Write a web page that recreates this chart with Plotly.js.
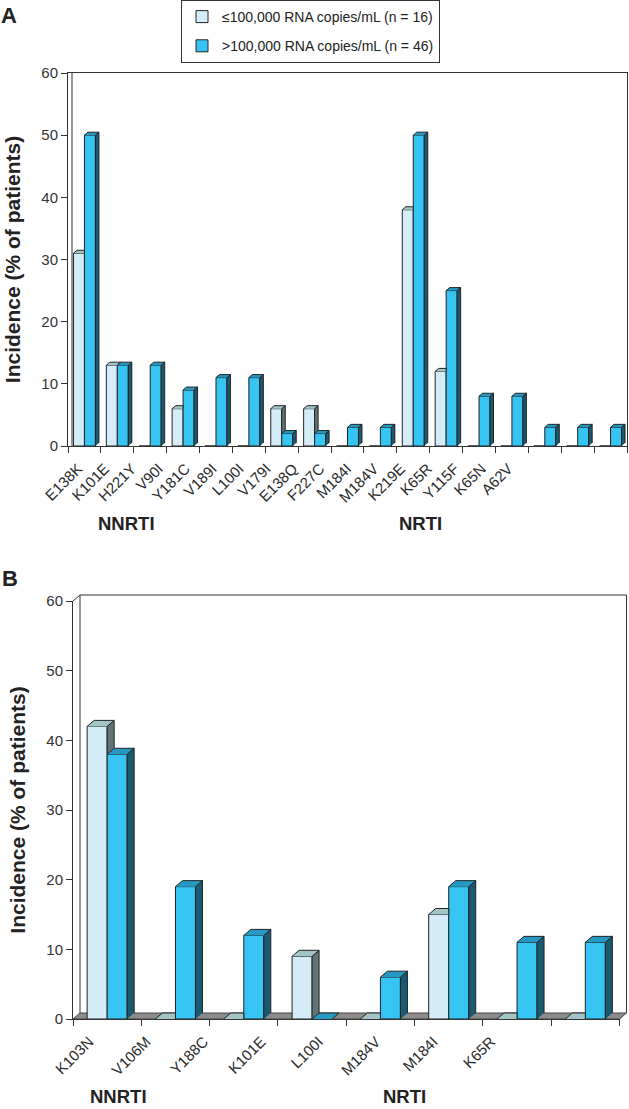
<!DOCTYPE html>
<html><head><meta charset="utf-8">
<script src="https://cdn.plot.ly/plotly-3.0.1.min.js"></script>
<style>html,body{margin:0;padding:0;background:#fff}</style>
</head><body><div id="chart" style="width:629px;height:1109px"></div>
<script>
// ---- data ----
const catsA = ["E138K","K101E","H221Y","V90I","Y181C","V189I","L100I","V179I","E138Q","F227C","M184I","M184V","K219E","K65R","Y115F","K65N","A62V"];
const lowA  = [31,13,0,6,0,0,6,6,0,0,38,12,0,0,0,0,0];
const highA = [50,13,13,9,11,11,2,2,3,3,50,25,8,8,3,3,3];
const catsB = ["K103N","V106M","Y188C","K101E","L100I","M184V","M184I","K65R"];
const lowB  = [42,0,0,9,0,15,0,0];
const highB = [38,19,12,0,6,19,11,11];
const seriesNames = ["≤100,000 RNA copies/mL (n = 16)", ">100,000 RNA copies/mL (n = 46)"];
const groupLabels = ["NNRTI","NRTI"];
const panelLabels = ["A","B"];
const yTicks = [0,10,20,30,40,50,60];
const yTitle = "Incidence (% of patients)";

// ---- style / geometry ----
const W = 629, H = 1109;
const px = x => x / W, py = y => 1 - y / H;
const colLow = {front:"#d3ecf7", top:"#a2c5c7", side:"#5f7476"};
const colHigh = {front:"#36c4f2", top:"#2599c3", side:"#1a5a71"};
const edge = "#222";
const gA = {left:68, right:627, top:73, bottom:446, w:0.334, dx:3.5, dy:3, lab0:78, labStep:26.9, zeroTops:false};
const gB = {left:73, right:619.5, top:601, bottom:1019, w:0.293, dx:7, dy:6, lab0:89, labStep:57.4, zeroTops:true};

function faceTraces(low, high, g, xa, ya) {
  const n = low.length;
  const ux = (g.right - g.left) / n, uy = (g.bottom - g.top) / 60;
  const dX = g.dx / ux, dY = g.dy / uy, w = g.w;
  const lt = {x:[],y:[]}, ls = {x:[],y:[]}, ht = {x:[],y:[]}, hs = {x:[],y:[]};
  const poly = (o, pts) => { pts.forEach(p => { o.x.push(p[0]); o.y.push(p[1]); }); o.x.push(null); o.y.push(null); };
  for (let i = 0; i < n; i++) {
    const x0 = i - w, x1 = i, x2 = i + w, vl = low[i], vh = high[i];
    if (vl > 0 || g.zeroTops) {
      if (vh > vl) poly(lt, [[x0,vl],[x0+dX,vl+dY],[x1,vl+dY],[x1,vl]]);
      else poly(lt, [[x0,vl],[x0+dX,vl+dY],[x1+dX,vl+dY],[x1,vl]]);
      if (vl > vh) poly(ls, [[x1,vh],[x1,vl],[x1+dX,vl+dY],[x1+dX,vh+dY]]);
    }
    if (vh > 0 || g.zeroTops) {
      poly(ht, [[x1,vh],[x1+dX,vh+dY],[x2+dX,vh+dY],[x2,vh]]);
      if (vh > 0) poly(hs, [[x2,0],[x2,vh],[x2+dX,vh+dY],[x2+dX,dY]]);
    }
  }
  const mk = (o, c) => ({type:"scatter", mode:"lines", x:o.x, y:o.y, fill:"toself", fillcolor:c,
    line:{color:edge, width:1}, xaxis:xa, yaxis:ya, hoverinfo:"skip", showlegend:false});
  return [mk(ls, colLow.side), mk(lt, colLow.top), mk(hs, colHigh.side), mk(ht, colHigh.top)];
}

function barTraces(cats, low, high, g, xa, ya, legend) {
  const xs = cats.map((_, i) => i);
  return [
    {type:"bar", x:xs, y:low, width:g.w, offset:-g.w, name:seriesNames[0], xaxis:xa, yaxis:ya,
     marker:{color:colLow.front, line:{color:edge, width:1}}, showlegend:legend, legendgroup:"g1"},
    {type:"bar", x:xs, y:high, width:g.w, offset:0, name:seriesNames[1], xaxis:xa, yaxis:ya,
     marker:{color:colHigh.front, line:{color:edge, width:1}}, showlegend:legend, legendgroup:"g2"}
  ];
}

const dummy = (xa, ya) => ({type:"scatter", mode:"markers", x:[0], y:[0], xaxis:xa, yaxis:ya,
  marker:{opacity:0}, hoverinfo:"skip", showlegend:false});

const data = [
  ...barTraces(catsA, lowA, highA, gA, "x", "y", true),
  ...faceTraces(lowA, highA, gA, "x", "y"),
  ...barTraces(catsB, lowB, highB, gB, "x2", "y2", false),
  ...faceTraces(lowB, highB, gB, "x2", "y2"),
  dummy("x3", "y"), dummy("x4", "y2")
];

function catAxis(n, g, anchor, mirror) {
  const b = []; for (let i = 0; i <= n; i++) b.push(i - 0.5);
  return {domain:[px(g.left), px(g.right)], range:[-0.5, n - 0.5], anchor:anchor,
    tickmode:"array", tickvals:b, ticktext:b.map(() => ""), ticks:"outside", ticklen:6,
    tickcolor:"#333", showline:true, linecolor:"#333", linewidth:1, mirror:mirror,
    showgrid:false, zeroline:false, showticklabels:false, fixedrange:true};
}
function labelAxis(cats, g, over, anchor) {
  const span = (g.right - g.left) / g.labStep;
  const r0 = -(g.lab0 - g.left) / g.labStep;
  return {domain:[px(g.left), px(g.right)], overlaying:over, anchor:anchor, range:[r0, r0 + span],
    tickmode:"array", tickvals:cats.map((_, i) => i), ticktext:cats, tickangle:-45,
    ticks:"outside", ticklen:7, tickcolor:"rgba(0,0,0,0)", showline:false, showgrid:false, zeroline:false,
    tickfont:{family:"Liberation Sans, Arial, sans-serif", size:15, color:"#2a2a2a"}};
}
function valAxis(g, anchor, mirror) {
  return {domain:[py(g.bottom), py(g.top)], range:[0, 60], anchor:anchor, tickmode:"array", tickvals:yTicks,
    ticks:"outside", ticklen:6, tickcolor:"#333", showline:true, linecolor:"#333", linewidth:1, mirror:mirror,
    showgrid:false, zeroline:false, fixedrange:true,
    tickfont:{family:"Liberation Sans, Arial, sans-serif", size:15, color:"#333"},
    title:{text:yTitle, standoff:14, font:{family:"Liberation Sans, Arial, sans-serif", size:21, color:"#222", weight:"bold"}}};
}

const line = (x0, y0, x1, y1) => ({type:"line", xref:"paper", yref:"paper", x0:px(x0), y0:py(y0), x1:px(x1), y1:py(y1),
  line:{color:"#333", width:1}});
const shapes = [
  // panel A inner wall line
  line(72, gA.top, 72, gA.bottom),
  // panel B back wall
  line(gB.left, gB.top, gB.left + gB.dx, gB.top - gB.dy),
  line(gB.left + gB.dx, gB.top - gB.dy, gB.right + gB.dx, gB.top - gB.dy),
  line(gB.right + gB.dx, gB.top - gB.dy, gB.right + gB.dx, gB.bottom - gB.dy),
  line(gB.left + gB.dx, gB.top - gB.dy, gB.left + gB.dx, gB.bottom - gB.dy),
  // panel B floor
  {type:"path", xref:"paper", yref:"paper", layer:"below",
   path:`M${px(gB.left)},${py(gB.bottom)} L${px(gB.left+gB.dx)},${py(gB.bottom-gB.dy)} L${px(gB.right+gB.dx)},${py(gB.bottom-gB.dy)} L${px(gB.right)},${py(gB.bottom)} Z`,
   fillcolor:"#8c8c8c", line:{color:"#444", width:1}}
];

const groupFont = {family:"Liberation Sans Narrow, Arial Narrow, Liberation Sans, Arial, sans-serif", size:18.5, color:"#222", weight:"bold"};
const ann = (t, x, y, f) => ({text:t, x:px(x), y:py(y), xref:"paper", yref:"paper", showarrow:false,
  xanchor:"center", yanchor:"middle", font:f});
const panelFont = {family:"Liberation Sans, Arial, sans-serif", size:22, color:"#222", weight:"bold"};
const annotations = [
  ann(panelLabels[0], 9, 15, panelFont),
  ann(panelLabels[1], 10, 578, panelFont),
  ann(groupLabels[0], 126, 523, groupFont),
  ann(groupLabels[1], 420, 523, groupFont),
  ann(groupLabels[0], 118, 1096, groupFont),
  ann(groupLabels[1], 404, 1096, groupFont)
];

const layout = {
  width:W, height:H, margin:{l:0, r:0, t:0, b:0}, paper_bgcolor:"#fff", plot_bgcolor:"#fff",
  barmode:"overlay", showlegend:true,
  legend:{x:px(181), y:1, xanchor:"left", yanchor:"top", bordercolor:"#333", borderwidth:1, bgcolor:"#fff",
    traceorder:"grouped", tracegroupgap:8,
    font:{family:"Liberation Sans, Arial, sans-serif", size:14, color:"#222"}},
  xaxis: catAxis(catsA.length, gA, "y", true),
  yaxis: valAxis(gA, "x", true),
  xaxis2: catAxis(catsB.length, gB, "y2", false),
  yaxis2: valAxis(gB, "x2", false),
  xaxis3: labelAxis(catsA, gA, "x", "y"),
  xaxis4: labelAxis(catsB, gB, "x2", "y2"),
  shapes:shapes, annotations:annotations
};
Plotly.newPlot("chart", data, layout, {staticPlot:true, displayModeBar:false});
</script></body></html>
